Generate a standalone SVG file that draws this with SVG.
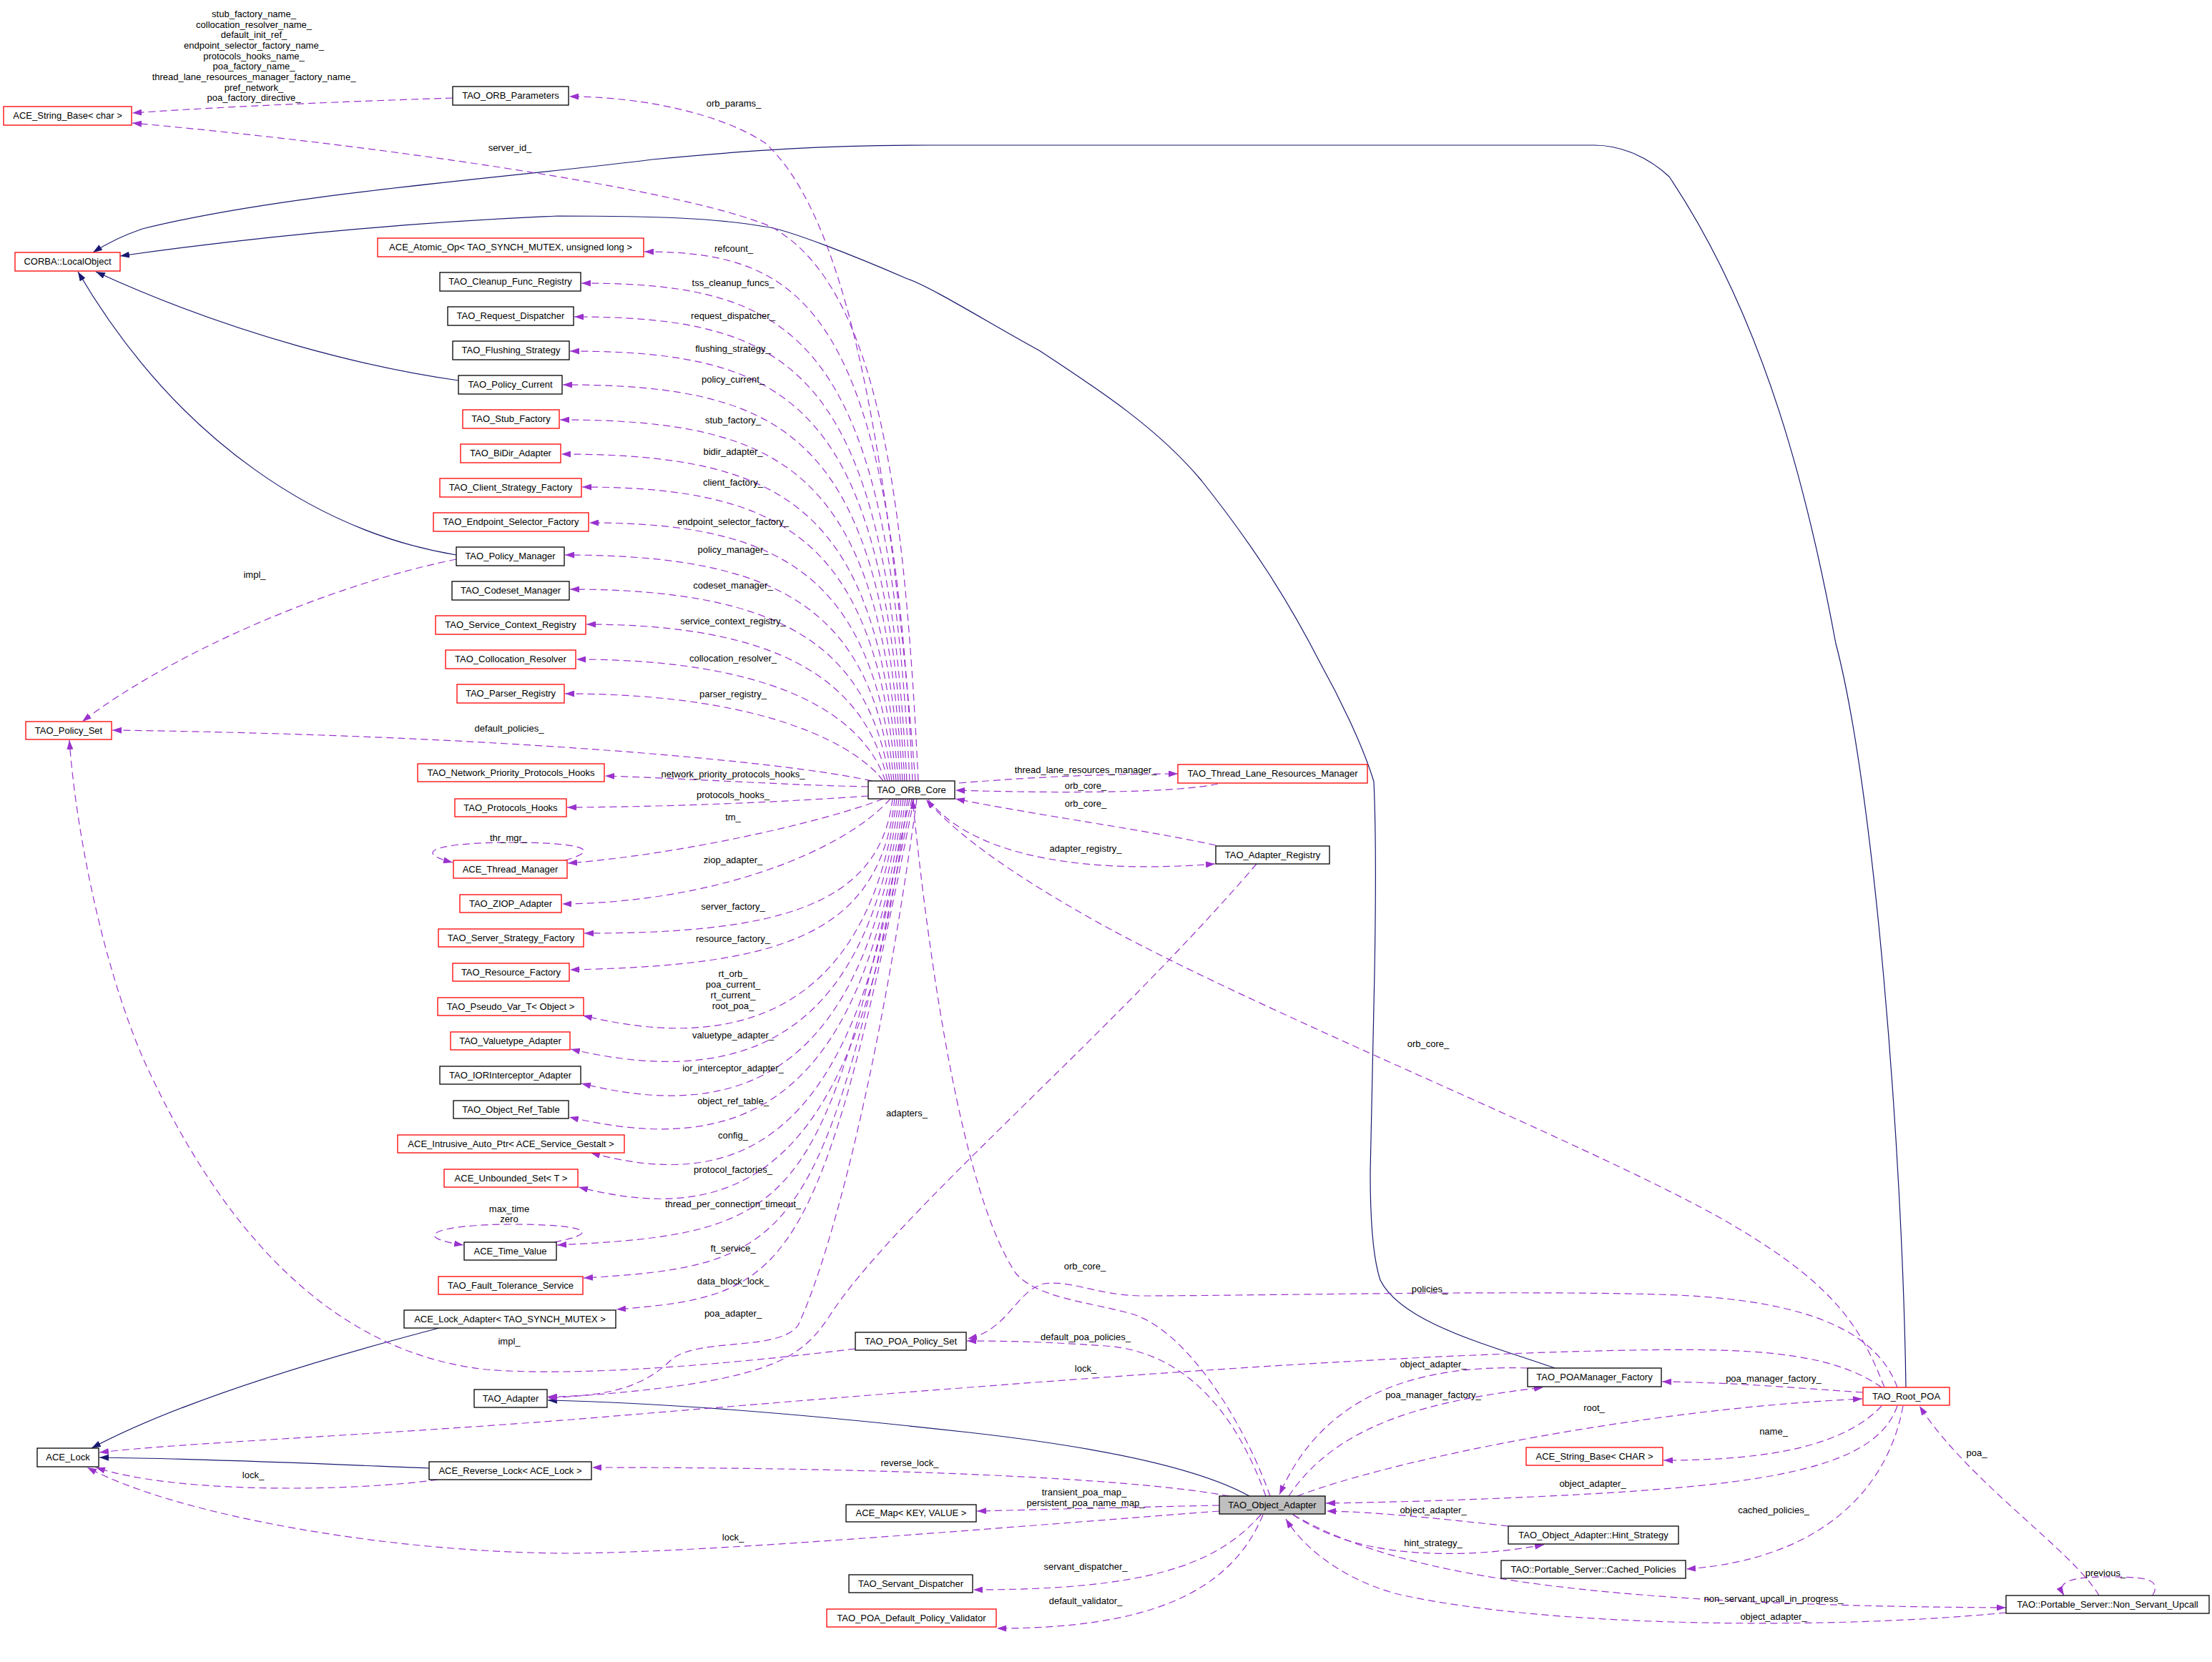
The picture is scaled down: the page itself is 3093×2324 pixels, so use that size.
<svg xmlns="http://www.w3.org/2000/svg" width="3093" height="2324" viewBox="0 0 3093 2324">
<defs>
<marker id="ap" viewBox="0 0 13 9" refX="13" refY="4.5" markerWidth="13" markerHeight="9" orient="auto" markerUnits="userSpaceOnUse"><path d="M0,0 L13,4.5 L0,9 z" fill="#9a32cd"/></marker>
<marker id="ab" viewBox="0 0 13 9" refX="13" refY="4.5" markerWidth="13" markerHeight="9" orient="auto" markerUnits="userSpaceOnUse"><path d="M0,0 L13,4.5 L0,9 z" fill="#191970"/></marker>
<style>
.node rect{fill:#fff;stroke:#000;stroke-width:1.3}
.node.red rect{stroke:#ff0000}
.node.cur rect{fill:#bfbfbf}
text{font-family:"Liberation Sans",Arial,sans-serif;font-size:13px;fill:#000}
.node text,.lbl{text-anchor:middle}
.d{fill:none;stroke:#9a32cd;stroke-width:1.2;stroke-dasharray:10,6;marker-end:url(#ap)}
.s{fill:none;stroke:#191970;stroke-width:1.2;marker-end:url(#ab)}
</style>
</defs>
<rect x="0" y="0" width="3093" height="2324" fill="#fff"/>

<g id="edges">
<!-- inheritance -->
<path class="s" d="M2665,1940 C2660,1600 2620,1100 2567,900 C2530,700 2470,450 2334,247 C2300,215 2260,203 2229,203 L1300,203 C1150,203 1050,210 912,223 C700,250 400,270 199,320 C170,330 150,340 130,353"/>
<path class="s" d="M2174,1913 C2080,1880 1960,1850 1930,1790 C1920,1760 1916,1700 1916,1640 L1922,1360 C1924,1250 1924,1160 1921,1093 C1905,1040 1870,970 1846,927 C1800,837 1750,760 1680,672 C1620,600 1540,547 1453,490 C1380,450 1300,400 1269,390 C1200,360 1100,320 1070,317 C1000,305 920,302 779,302 C600,310 400,325 168,358"/>
<path class="s" d="M641,532 C520,515 330,470 134,380"/>
<path class="s" d="M638,776 C450,745 250,620 109,380"/>
<path class="s" d="M614,1857 C450,1900 250,1960 128,2025"/>
<path class="s" d="M600,2053 C450,2047 300,2040 139,2038"/>
<path class="s" d="M1747,2092 C1680,2055 1550,2025 1355,2003 C1150,1980 950,1962 766,1958"/>

<!-- ORB_Core upward fan -->
<path class="d" d="M1280,1092 C1240,600 1180,300 1070,200 C1010,160 900,135 796,135"/>
<path class="d" d="M1284,1092 C1265,700 1230,400 1078,317 C950,262 500,200 185,172"/>
<path class="d" d="M1276,1092 C1246,432 1126,352 901,352"/>
<path class="d" d="M1272,1092 C1242,476 1122,396 813,396"/>
<path class="d" d="M1268,1092 C1238,523 1118,443 803,443"/>
<path class="d" d="M1265,1092 C1235,571 1115,491 797,491"/>
<path class="d" d="M1262,1092 C1232,618 1112,538 787,538"/>
<path class="d" d="M1259,1092 C1229,667 1109,587 783,587"/>
<path class="d" d="M1256,1092 C1226,715 1106,635 785,635"/>
<path class="d" d="M1253,1092 C1223,761 1103,681 814,681"/>
<path class="d" d="M1250,1092 C1220,811 1100,731 824,731"/>
<path class="d" d="M1247,1092 C1217,856 1097,776 790,776"/>
<path class="d" d="M1244,1092 C1214,904 1094,824 797,824"/>
<path class="d" d="M1241,1092 C1211,953 1091,873 820,873"/>
<path class="d" d="M1238,1092 C1208,1002 1088,922 806,922"/>
<path class="d" d="M1235,1092 C1205,1050 1085,970 790,970"/>
<path class="d" d="M1219,1092 C1100,1065 700,1028 157,1021"/>
<path class="d" d="M1214,1100 C1100,1098 950,1088 846,1085"/>
<path class="d" d="M1214,1113 C1100,1121 950,1128 793,1129"/>
<!-- ORB_Core downward fan -->
<path class="d" d="M1235,1117 C1150,1150 950,1195 794,1207"/>
<path class="d" d="M1245,1117 C1180,1190 1000,1262 786,1264"/>
<path class="d" d="M1248,1117 C1230,1270 1080,1305 817,1305"/>
<path class="d" d="M1251,1117 C1230,1310 1090,1350 797,1356"/>
<path class="d" d="M1254,1117 C1218,1390 1058,1480 815,1420"/>
<path class="d" d="M1257,1117 C1215,1437 1055,1527 798,1467"/>
<path class="d" d="M1260,1117 C1212,1485 1052,1575 813,1515"/>
<path class="d" d="M1263,1117 C1210,1532 1050,1622 796,1562"/>
<path class="d" d="M1266,1117 C1207,1582 1047,1672 826,1612"/>
<path class="d" d="M1269,1117 C1204,1630 1044,1720 809,1660"/>
<path class="d" d="M1272,1117 C1150,1690 1120,1725 779,1741"/>
<path class="d" d="M1275,1117 C1150,1740 1110,1770 816,1787"/>
<path class="d" d="M1278,1117 C1145,1790 1100,1812 862,1831"/>
<path class="d" d="M1282,1117 C1230,1500 1160,1760 1116,1853 C1090,1890 980,1870 940,1900 C900,1940 850,1953 766,1953"/>
<!-- self loops -->
<path class="d" d="M790,1203 C850,1186 800,1178 714,1178 C620,1178 570,1190 633,1206"/>
<path class="d" d="M775,1737 C850,1722 810,1712 714,1712 C620,1712 565,1728 648,1741"/>
<!-- misc left -->
<path class="d" d="M633,137 C450,143 300,150 185,158"/>
<path class="d" d="M638,782 C450,820 230,920 115,1009"/>
<path class="d" d="M1196,1886 C1000,1910 800,1925 680,1915 C450,1890 300,1700 200,1480 C140,1340 105,1150 97,1035"/>
<path class="d" d="M612,2069 C500,2085 250,2090 134,2052"/>
<path class="d" d="M1705,2113 C1350,2140 1000,2170 800,2172 C550,2172 250,2120 122,2052"/>
<path class="d" d="M2631,1940 C2560,1890 2450,1885 2280,1888 C1900,1895 1400,1935 800,1985 C500,2008 250,2018 139,2031"/>
<path class="d" d="M1757,1208 C1550,1450 1250,1700 1160,1840 C1120,1900 1080,1935 766,1955"/>
<!-- right of ORB_Core -->
<path class="d" d="M1341,1095 C1450,1086 1550,1082 1647,1082"/>
<path class="d" d="M1703,1096 C1650,1108 1500,1110 1336,1105"/>
<path class="d" d="M1700,1182 C1600,1160 1450,1140 1336,1117"/>
<path class="d" d="M1298,1118 C1350,1185 1480,1225 1699,1208"/>
<path class="d" d="M2635,1940 C2600,1850 2560,1790 2400,1700 C2200,1590 1750,1410 1530,1287 C1420,1225 1340,1170 1295,1118"/>
<path class="d" d="M1776,2092 C1740,1990 1660,1860 1582,1837 C1520,1820 1450,1815 1420,1780 C1360,1690 1310,1450 1276,1118"/>
<!-- Object_Adapter -->
<path class="d" d="M1770,2092 C1730,1980 1660,1890 1546,1882 C1460,1876 1400,1875 1352,1875"/>
<path class="d" d="M2653,1940 C2620,1850 2500,1815 2319,1810 C2100,1804 1750,1812 1594,1812 C1530,1810 1500,1790 1460,1795 C1420,1805 1410,1860 1353,1872"/>
<path class="d" d="M1719,2092 C1600,2070 1300,2052 828,2052"/>
<path class="d" d="M1705,2105 C1600,2107 1450,2111 1366,2113"/>
<path class="d" d="M1763,2118 C1700,2190 1600,2223 1361,2223"/>
<path class="d" d="M1766,2118 C1720,2230 1600,2277 1394,2277"/>
<path class="d" d="M2605,1947 C2500,1940 2420,1933 2324,1932"/>
<path class="d" d="M2136,1913 C1980,1908 1850,1950 1789,2090"/>
<path class="d" d="M1802,2092 C1870,1990 2000,1958 2158,1940"/>
<path class="d" d="M1814,2092 C1950,2040 2300,1970 2604,1956"/>
<path class="d" d="M2631,1966 C2580,2020 2480,2042 2326,2042"/>
<path class="d" d="M2653,1966 C2620,2060 2450,2080 2100,2095 C2000,2099 1920,2101 1854,2102"/>
<path class="d" d="M2661,1966 C2640,2080 2550,2180 2358,2194"/>
<path class="d" d="M2935,2231 C2900,2170 2750,2070 2684,1966"/>
<path class="d" d="M3010,2231 C3025,2205 2990,2205 2945,2205 C2895,2205 2875,2212 2886,2231"/>
<path class="d" d="M1808,2118 C1950,2200 2200,2245 2805,2248"/>
<path class="d" d="M2805,2255 C2550,2280 2150,2275 1950,2228 C1870,2205 1820,2160 1798,2124"/>
<path class="d" d="M2109,2134 C2000,2122 1920,2114 1855,2113"/>
<path class="d" d="M1808,2118 C1870,2160 1950,2175 2050,2172 C2100,2170 2130,2165 2159,2160"/>
</g>

<g id="edge-labels">
<text class="lbl" x="355" y="24">stub_factory_name_</text>
<text class="lbl" x="355" y="39">collocation_resolver_name_</text>
<text class="lbl" x="355" y="53">default_init_ref_</text>
<text class="lbl" x="355" y="68">endpoint_selector_factory_name_</text>
<text class="lbl" x="355" y="83">protocols_hooks_name_</text>
<text class="lbl" x="355" y="97">poa_factory_name_</text>
<text class="lbl" x="355" y="112">thread_lane_resources_manager_factory_name_</text>
<text class="lbl" x="355" y="127">pref_network_</text>
<text class="lbl" x="355" y="141">poa_factory_directive_</text>
<text class="lbl" x="1026" y="149">orb_params_</text>
<text class="lbl" x="713" y="211">server_id_</text>
<text class="lbl" x="1026" y="352">refcount_</text>
<text class="lbl" x="1025" y="400">tss_cleanup_funcs_</text>
<text class="lbl" x="1025" y="446">request_dispatcher_</text>
<text class="lbl" x="1025" y="492">flushing_strategy_</text>
<text class="lbl" x="1025" y="535">policy_current_</text>
<text class="lbl" x="1025" y="592">stub_factory_</text>
<text class="lbl" x="1025" y="636">bidir_adapter_</text>
<text class="lbl" x="1025" y="679">client_factory_</text>
<text class="lbl" x="1025" y="734">endpoint_selector_factory_</text>
<text class="lbl" x="1025" y="773">policy_manager_</text>
<text class="lbl" x="1025" y="823">codeset_manager_</text>
<text class="lbl" x="1025" y="873">service_context_registry_</text>
<text class="lbl" x="1025" y="925">collocation_resolver_</text>
<text class="lbl" x="1025" y="975">parser_registry_</text>
<text class="lbl" x="356" y="808">impl_</text>
<text class="lbl" x="712" y="1023">default_policies_</text>
<text class="lbl" x="1025" y="1087">network_priority_protocols_hooks_</text>
<text class="lbl" x="1025" y="1116">protocols_hooks_</text>
<text class="lbl" x="1025" y="1147">tm_</text>
<text class="lbl" x="711" y="1176">thr_mgr_</text>
<text class="lbl" x="1025" y="1207">ziop_adapter_</text>
<text class="lbl" x="1025" y="1272">server_factory_</text>
<text class="lbl" x="1025" y="1317">resource_factory_</text>
<text class="lbl" x="1025" y="1366">rt_orb_</text>
<text class="lbl" x="1025" y="1381">poa_current_</text>
<text class="lbl" x="1025" y="1396">rt_current_</text>
<text class="lbl" x="1025" y="1411">root_poa_</text>
<text class="lbl" x="1025" y="1452">valuetype_adapter_</text>
<text class="lbl" x="1025" y="1498">ior_interceptor_adapter_</text>
<text class="lbl" x="1025" y="1544">object_ref_table_</text>
<text class="lbl" x="1025" y="1592">config_</text>
<text class="lbl" x="1025" y="1640">protocol_factories_</text>
<text class="lbl" x="1025" y="1688">thread_per_connection_timeout_</text>
<text class="lbl" x="712" y="1695">max_time</text>
<text class="lbl" x="712" y="1709">zero</text>
<text class="lbl" x="1025" y="1750">ft_service_</text>
<text class="lbl" x="1025" y="1796">data_block_lock_</text>
<text class="lbl" x="1025" y="1841">poa_adapter_</text>
<text class="lbl" x="1268" y="1561">adapters_</text>
<text class="lbl" x="712" y="1880">impl_</text>
<text class="lbl" x="354" y="2067">lock_</text>
<text class="lbl" x="1025" y="2154">lock_</text>
<text class="lbl" x="1518" y="1918">lock_</text>
<text class="lbl" x="1272" y="2050">reverse_lock_</text>
<text class="lbl" x="1516" y="2091">transient_poa_map_</text>
<text class="lbl" x="1518" y="2106">persistent_poa_name_map_</text>
<text class="lbl" x="1518" y="2195">servant_dispatcher_</text>
<text class="lbl" x="1518" y="2243">default_validator_</text>
<text class="lbl" x="1518" y="1874">default_poa_policies_</text>
<text class="lbl" x="1517" y="1775">orb_core_</text>
<text class="lbl" x="1999" y="1807">policies_</text>
<text class="lbl" x="1518" y="1081">thread_lane_resources_manager_</text>
<text class="lbl" x="1518" y="1103">orb_core_</text>
<text class="lbl" x="1518" y="1128">orb_core_</text>
<text class="lbl" x="1518" y="1191">adapter_registry_</text>
<text class="lbl" x="1997" y="1464">orb_core_</text>
<text class="lbl" x="2004" y="1912">object_adapter_</text>
<text class="lbl" x="2004" y="1955">poa_manager_factory_</text>
<text class="lbl" x="2480" y="1932">poa_manager_factory_</text>
<text class="lbl" x="2229" y="1973">root_</text>
<text class="lbl" x="2480" y="2006">name_</text>
<text class="lbl" x="2227" y="2079">object_adapter_</text>
<text class="lbl" x="2004" y="2116">object_adapter_</text>
<text class="lbl" x="2004" y="2162">hint_strategy_</text>
<text class="lbl" x="2480" y="2116">cached_policies_</text>
<text class="lbl" x="2764" y="2036">poa_</text>
<text class="lbl" x="2944" y="2204">previous_</text>
<text class="lbl" x="2480" y="2240">non_servant_upcall_in_progress_</text>
<text class="lbl" x="2480" y="2265">object_adapter_</text>
</g>

<g id="n_str_char" class="node red"><rect x="5" y="149" width="179" height="26"/><text x="94.5" y="166">ACE_String_Base&lt; char &gt;</text></g>
<g id="n_orb_params" class="node"><rect x="633" y="121" width="162" height="26"/><text x="714" y="138">TAO_ORB_Parameters</text></g>
<g id="n_localobject" class="node red"><rect x="21" y="353" width="147" height="26"/><text x="94.5" y="370">CORBA::LocalObject</text></g>
<g id="n_atomic" class="node red"><rect x="528" y="333" width="372" height="26"/><text x="714" y="350">ACE_Atomic_Op&lt; TAO_SYNCH_MUTEX, unsigned long &gt;</text></g>
<g id="n_cleanup" class="node"><rect x="615" y="381" width="197" height="26"/><text x="713.5" y="398">TAO_Cleanup_Func_Registry</text></g>
<g id="n_reqdisp" class="node"><rect x="626" y="429" width="176" height="26"/><text x="714" y="446">TAO_Request_Dispatcher</text></g>
<g id="n_flush" class="node"><rect x="633" y="477" width="163" height="26"/><text x="714.5" y="494">TAO_Flushing_Strategy</text></g>
<g id="n_polcur" class="node"><rect x="641" y="525" width="145" height="26"/><text x="713.5" y="542">TAO_Policy_Current</text></g>
<g id="n_stub" class="node red"><rect x="647" y="573" width="135" height="26"/><text x="714.5" y="590">TAO_Stub_Factory</text></g>
<g id="n_bidir" class="node red"><rect x="644" y="621" width="140" height="26"/><text x="714" y="638">TAO_BiDir_Adapter</text></g>
<g id="n_client" class="node red"><rect x="615" y="669" width="198" height="26"/><text x="714" y="686">TAO_Client_Strategy_Factory</text></g>
<g id="n_endpoint" class="node red"><rect x="606" y="717" width="217" height="26"/><text x="714.5" y="734">TAO_Endpoint_Selector_Factory</text></g>
<g id="n_polmgr" class="node"><rect x="638" y="765" width="151" height="26"/><text x="713.5" y="782">TAO_Policy_Manager</text></g>
<g id="n_codeset" class="node"><rect x="632" y="813" width="164" height="26"/><text x="714" y="830">TAO_Codeset_Manager</text></g>
<g id="n_svcctx" class="node red"><rect x="609" y="861" width="210" height="26"/><text x="714" y="878">TAO_Service_Context_Registry</text></g>
<g id="n_colloc" class="node red"><rect x="623" y="909" width="182" height="26"/><text x="714" y="926">TAO_Collocation_Resolver</text></g>
<g id="n_parser" class="node red"><rect x="639" y="957" width="150" height="26"/><text x="714" y="974">TAO_Parser_Registry</text></g>
<g id="n_polset" class="node red"><rect x="36" y="1009" width="120" height="25"/><text x="96" y="1026">TAO_Policy_Set</text></g>
<g id="n_netprio" class="node red"><rect x="584" y="1068" width="261" height="25"/><text x="714.5" y="1085">TAO_Network_Priority_Protocols_Hooks</text></g>
<g id="n_prothooks" class="node red"><rect x="636" y="1117" width="156" height="25"/><text x="714" y="1134">TAO_Protocols_Hooks</text></g>
<g id="n_thrmgr" class="node red"><rect x="634" y="1203" width="159" height="25"/><text x="713.5" y="1220">ACE_Thread_Manager</text></g>
<g id="n_ziop" class="node red"><rect x="643" y="1251" width="142" height="25"/><text x="714" y="1268">TAO_ZIOP_Adapter</text></g>
<g id="n_srvstrat" class="node red"><rect x="613" y="1299" width="203" height="25"/><text x="714.5" y="1316">TAO_Server_Strategy_Factory</text></g>
<g id="n_resfact" class="node red"><rect x="633" y="1347" width="163" height="25"/><text x="714.5" y="1364">TAO_Resource_Factory</text></g>
<g id="n_pseudo" class="node red"><rect x="612" y="1395" width="204" height="25"/><text x="714" y="1412">TAO_Pseudo_Var_T&lt; Object &gt;</text></g>
<g id="n_valuetype" class="node red"><rect x="630" y="1443" width="167" height="25"/><text x="713.5" y="1460">TAO_Valuetype_Adapter</text></g>
<g id="n_ior" class="node"><rect x="615" y="1491" width="197" height="25"/><text x="713.5" y="1508">TAO_IORInterceptor_Adapter</text></g>
<g id="n_objref" class="node"><rect x="634" y="1539" width="161" height="25"/><text x="714.5" y="1556">TAO_Object_Ref_Table</text></g>
<g id="n_intrusive" class="node red"><rect x="556" y="1587" width="317" height="25"/><text x="714.5" y="1604">ACE_Intrusive_Auto_Ptr&lt; ACE_Service_Gestalt &gt;</text></g>
<g id="n_unbounded" class="node red"><rect x="621" y="1635" width="187" height="25"/><text x="714.5" y="1652">ACE_Unbounded_Set&lt; T &gt;</text></g>
<g id="n_timevalue" class="node"><rect x="649" y="1737" width="129" height="25"/><text x="713.5" y="1754">ACE_Time_Value</text></g>
<g id="n_ft" class="node red"><rect x="613" y="1785" width="202" height="25"/><text x="714" y="1802">TAO_Fault_Tolerance_Service</text></g>
<g id="n_lockadapter" class="node"><rect x="565" y="1832" width="296" height="25"/><text x="713" y="1849">ACE_Lock_Adapter&lt; TAO_SYNCH_MUTEX &gt;</text></g>
<g id="n_adapter" class="node"><rect x="663" y="1943" width="102" height="25"/><text x="714" y="1960">TAO_Adapter</text></g>
<g id="n_acelock" class="node"><rect x="52" y="2025" width="86" height="26"/><text x="95" y="2042">ACE_Lock</text></g>
<g id="n_revlock" class="node"><rect x="600" y="2044" width="227" height="25"/><text x="713.5" y="2061">ACE_Reverse_Lock&lt; ACE_Lock &gt;</text></g>
<g id="n_orbcore" class="node"><rect x="1214" y="1092" width="121" height="25"/><text x="1274.5" y="1109">TAO_ORB_Core</text></g>
<g id="n_tlrm" class="node red"><rect x="1647" y="1069" width="265" height="26"/><text x="1779.5" y="1086">TAO_Thread_Lane_Resources_Manager</text></g>
<g id="n_adreg" class="node"><rect x="1700" y="1183" width="159" height="25"/><text x="1779.5" y="1200">TAO_Adapter_Registry</text></g>
<g id="n_poapolset" class="node"><rect x="1196" y="1863" width="155" height="25"/><text x="1273.5" y="1880">TAO_POA_Policy_Set</text></g>
<g id="n_acemap" class="node"><rect x="1183" y="2104" width="182" height="24"/><text x="1274" y="2120">ACE_Map&lt; KEY, VALUE &gt;</text></g>
<g id="n_servdisp" class="node"><rect x="1187" y="2202" width="173" height="25"/><text x="1273.5" y="2219">TAO_Servant_Dispatcher</text></g>
<g id="n_validator" class="node red"><rect x="1156" y="2250" width="237" height="25"/><text x="1274.5" y="2267">TAO_POA_Default_Policy_Validator</text></g>
<g id="n_objadapter" class="node cur"><rect x="1705" y="2092" width="148" height="25"/><text x="1779" y="2109">TAO_Object_Adapter</text></g>
<g id="n_poamgrfact" class="node"><rect x="2136" y="1913" width="187" height="26"/><text x="2229.5" y="1930">TAO_POAManager_Factory</text></g>
<g id="n_rootpoa" class="node red"><rect x="2605" y="1940" width="121" height="25"/><text x="2665.5" y="1957">TAO_Root_POA</text></g>
<g id="n_strCHAR" class="node red"><rect x="2134" y="2024" width="191" height="25"/><text x="2229.5" y="2041">ACE_String_Base&lt; CHAR &gt;</text></g>
<g id="n_hint" class="node"><rect x="2109" y="2134" width="238" height="25"/><text x="2228" y="2151">TAO_Object_Adapter::Hint_Strategy</text></g>
<g id="n_cached" class="node"><rect x="2099" y="2182" width="258" height="25"/><text x="2228" y="2199">TAO::Portable_Server::Cached_Policies</text></g>
<g id="n_nsu" class="node"><rect x="2805" y="2231" width="284" height="25"/><text x="2947" y="2248">TAO::Portable_Server::Non_Servant_Upcall</text></g>
</svg>
